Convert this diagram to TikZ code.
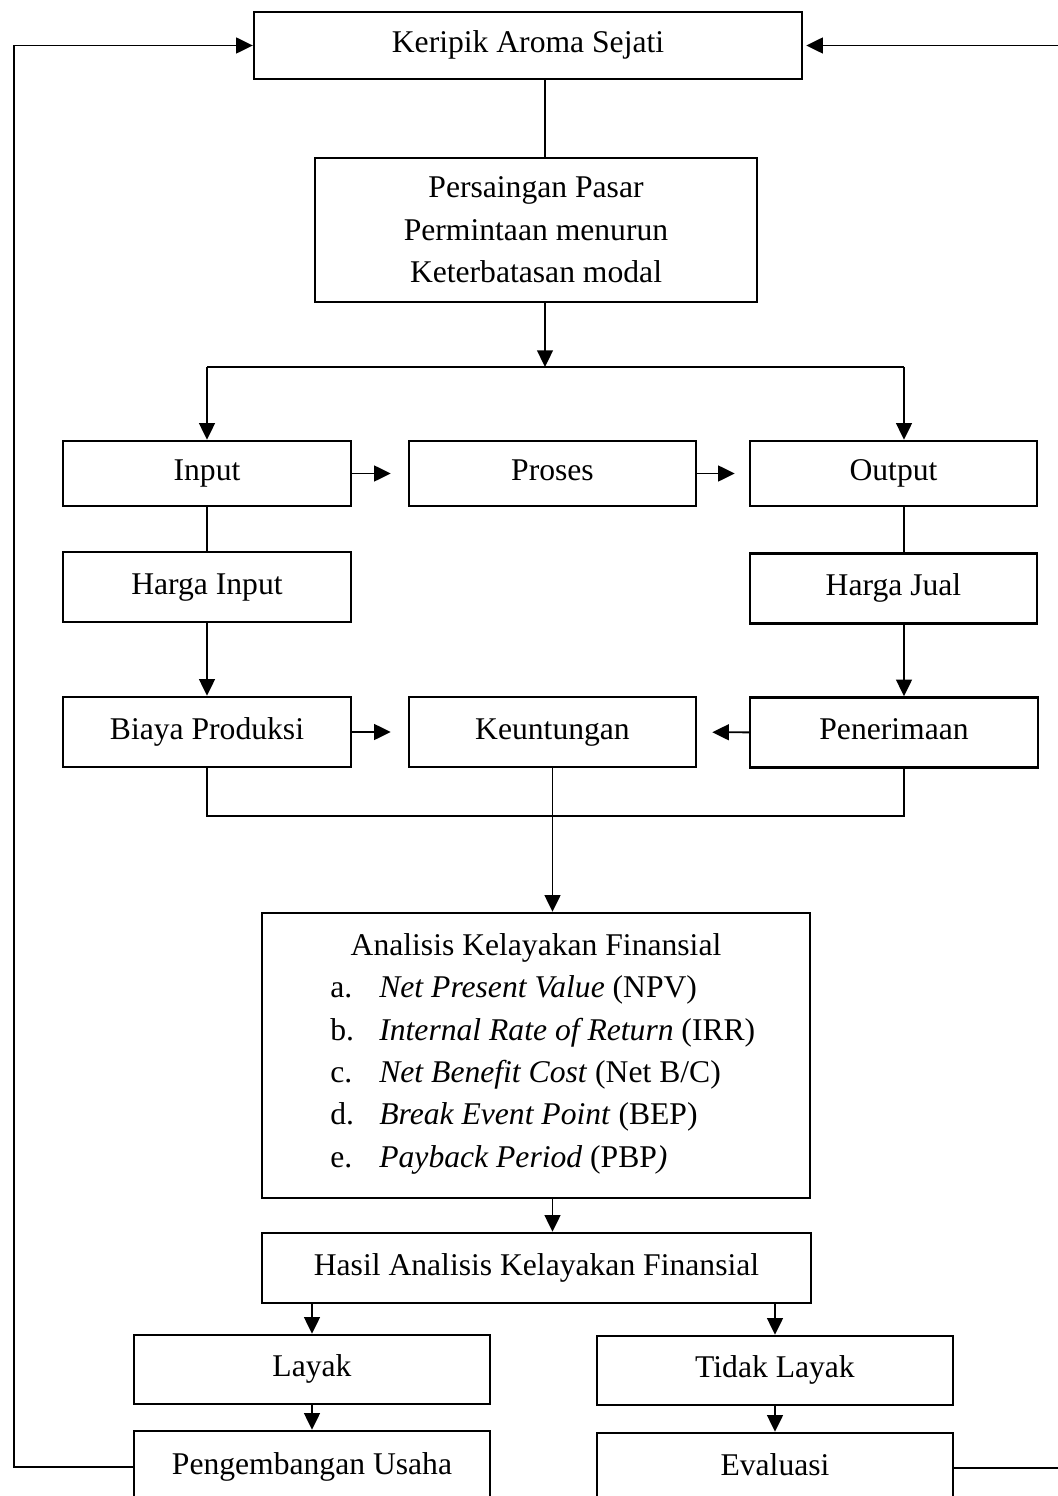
\documentclass[tikz,border=0pt]{standalone}
\usepackage{fontspec}
\setmainfont{Liberation Serif}
\usepackage{tikz}
\usetikzlibrary{arrows.meta}

\begin{document}
\begin{tikzpicture}[x=0.02cm, y=-0.02cm,
 font=\fontsize{18}{24.1}\selectfont,
 kotak/.style={rectangle, draw=black, line width=1.4pt, align=center, inner sep=0pt},
 kotaksatu/.style={kotak, text height=12.4pt, text depth=4pt},
 garis/.style={draw=black, line width=1.1pt},
 panah/.style={garis, -{Triangle[length=9.5pt,width=9pt]}}]
 \useasboundingbox (0,0) rectangle (1057,1496);

 % kotak-kotak
 \node [kotaksatu, minimum width=10.96cm, minimum height=1.34cm] (keripik) at (528, 45.5) {Keripik Aroma Sejati};
 \node [kotak, minimum width=8.84cm, minimum height=2.88cm] (persaingan) at (536, 230) {Persaingan Pasar\\Permintaan menurun\\Keterbatasan modal};
 \node [kotaksatu, minimum width=5.76cm, minimum height=1.3cm] (input) at (207, 473.5) {Input};
 \node [kotaksatu, minimum width=5.74cm, minimum height=1.3cm] (proses) at (552.5, 473.5) {Proses};
 \node [kotaksatu, minimum width=5.74cm, minimum height=1.3cm] (output) at (893.5, 473.5) {Output};
 \node [kotaksatu, minimum width=5.76cm, minimum height=1.4cm] (hargainput) at (207, 587) {Harga Input};
 \node [kotaksatu, minimum width=5.74cm, minimum height=1.4cm] (hargajual) at (893.5, 588.5) {Harga Jual};
 \node [kotaksatu, minimum width=5.76cm, minimum height=1.4cm] (biaya) at (207, 732) {Biaya Produksi};
 \node [kotaksatu, minimum width=5.74cm, minimum height=1.4cm] (keuntungan) at (552.5, 732) {Keuntungan};
 \node [kotaksatu, minimum width=5.76cm, minimum height=1.4cm] (penerimaan) at (894, 732.5) {Penerimaan};
 \node [kotak, minimum width=10.96cm, minimum height=5.7cm] (analisis) at (536, 1055.5) {};
 \node (judul) at (536, 948) {Analisis Kelayakan Finansial};
 \node [anchor=west, align=left, inner sep=0pt] (daftar) at (330, 1075) {%
  \makebox[0.98cm][l]{a.}\textit{Net Present Value} (NPV)\\
  \makebox[0.98cm][l]{b.}\textit{Internal Rate of Return} (IRR)\\
  \makebox[0.98cm][l]{c.}\textit{Net Benefit Cost} (Net B/C)\\
  \makebox[0.98cm][l]{d.}\textit{Break Event Point} (BEP)\\
  \makebox[0.98cm][l]{e.}\textit{Payback Period} (PBP\textit{)}};
 \node [kotaksatu, minimum width=10.98cm, minimum height=1.4cm] (hasil) at (536.5, 1268) {Hasil Analisis Kelayakan Finansial};
 \node [kotaksatu, minimum width=7.12cm, minimum height=1.38cm] (layak) at (312, 1369.5) {Layak};
 \node [kotaksatu, minimum width=7.12cm, minimum height=1.38cm] (tidak) at (775, 1370.5) {Tidak Layak};
 \node [kotaksatu, minimum width=7.12cm, minimum height=1.44cm] (pengembangan) at (312, 1467) {Pengembangan Usaha};
 \node [kotaksatu, minimum width=7.12cm, minimum height=1.4cm] (evaluasi) at (775, 1468) {Evaluasi};

 % titik bantu
 \coordinate (pusat) at (545, 367);
 \coordinate (kiri) at (207, 367);
 \coordinate (kanan) at (904, 367);
 \coordinate (bawah) at (552, 816);
 \coordinate (luarkiri) at (14, 0);
 \coordinate (luarkanan) at (1060, 0);

 % garis dan panah
 \draw [garis] (pusat |- keripik.south) -- (pusat |- persaingan.north);
 \draw [panah] (pusat |- persaingan.south) -- (pusat);
 \draw [garis] (kiri) -- (kanan);
 \draw [panah] (kiri) -- (input.north);
 \draw [panah] (kanan) -- (kanan |- output.north);
 \draw [panah, shorten >=0.34cm] (input) -- (proses);
 \draw [panah, shorten >=0.28cm] (proses) -- (output);
 \draw [garis] (input) -- (hargainput);
 \draw [garis] (kanan |- output.south) -- (kanan |- hargajual.north);
 \draw [panah] (hargainput) -- (biaya);
 \draw [panah] (kanan |- hargajual.south) -- (kanan |- penerimaan.north);
 \draw [panah, shorten >=0.34cm] (biaya) -- (keuntungan);
 \draw [panah, shorten >=0.3cm] (penerimaan) -- (keuntungan);
 \draw [garis] (biaya.south) |- (bawah) -| (kanan |- penerimaan.south);
 \draw [panah] (keuntungan) -- (keuntungan |- analisis.north);
 \draw [panah] (keuntungan |- analisis.south) -- (keuntungan |- hasil.north);
 \draw [panah] (layak |- hasil.south) -- (layak);
 \draw [panah] (tidak |- hasil.south) -- (tidak);
 \draw [panah] (layak) -- (pengembangan);
 \draw [panah] (tidak) -- (evaluasi);
 \draw [panah] (pengembangan.west) -| (luarkiri |- keripik.west) -- (keripik.west);
 \draw [panah, shorten >=0.06cm] (evaluasi.east) -| (luarkanan |- keripik.east) -- (keripik.east);
\end{tikzpicture}
\end{document}
